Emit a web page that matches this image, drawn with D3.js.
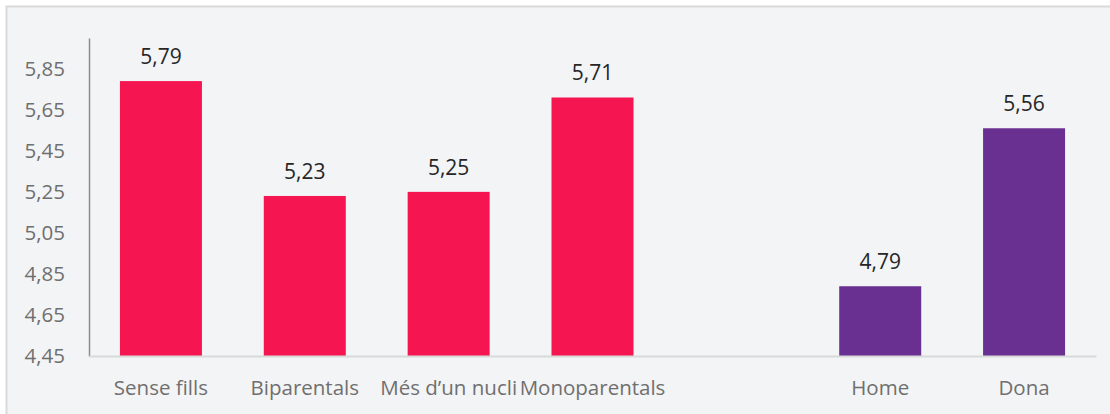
<!DOCTYPE html>
<html>
<head>
<meta charset="utf-8">
<script src="https://cdn.jsdelivr.net/npm/d3@7"></script>
<style>
  html, body { margin: 0; padding: 0; background: #fff; }
  svg { display: block; font-family: "Open Sans", sans-serif; }
</style>
</head>
<body>
<div id="chart"></div>
<script>
// categories (the blank one is the gap between the two groups)
const categories = ["Sense fills", "Biparentals", "Més d’un nucli", "Monoparentals", "", "Home", "Dona"];
const values = [5.79, 5.23, 5.25, 5.71, null, 4.79, 5.56];
const groups = ["llar", "llar", "llar", "llar", "", "sexe", "sexe"];
const yTicks = [4.45, 4.65, 4.85, 5.05, 5.25, 5.45, 5.65, 5.85];

const width = 1110, height = 414,
    margin = ({ top: 38, right: 14, bottom: 58, left: 89 });

const colors = { llar: "#f51551", sexe: "#692f91" };
const fmt = d => d3.format(".2f")(d).replace(".", ",");

const svg = d3.select("#chart")
    .append("svg")
    .attr("width", width)
    .attr("height", height)
    .attr("viewBox", [0, 0, width, height]);

// panel background with a thin border on top and left
svg.append("rect")
    .attr("x", 6).attr("y", 6)
    .attr("width", width - 6).attr("height", height - 6)
    .attr("fill", "#f3f4f6");
svg.append("path")
    .attr("d", `M6.5,${height} V6.5 H${width}`)
    .attr("fill", "none")
    .attr("stroke", "#d9d9d9")
    .attr("stroke-width", 2);

const data = categories.map((c, i) => ({ key: i, cat: c, value: values[i], group: groups[i] }));

let x = d3.scaleBand()
    .domain(data.map(d => d.key))
    .range([margin.left, width - margin.right])
    .paddingInner(0.43)
    .paddingOuter(0.215);

let y = d3.scaleLinear()
    .domain([4.45, 6.0])
    .range([height - margin.bottom, margin.top]);

// y axis
const yAxis = svg.append("g")
    .attr("transform", `translate(${margin.left},0)`)
    .call(d3.axisLeft(y).tickValues(yTicks).tickFormat(fmt).tickSize(0).tickPadding(24));
yAxis.select(".domain").attr("stroke", "#8c8c8c").attr("stroke-width", 1.5);
yAxis.selectAll("text").attr("fill", "#6f6f6f").style("font-size", "20.5px").style("font-family", "Open Sans");

// bars
svg.append("g")
    .selectAll("rect")
    .data(data.filter(d => d.value != null))
    .join("rect")
    .attr("x", d => x(d.key))
    .attr("y", d => y(d.value))
    .attr("width", x.bandwidth())
    .attr("height", d => y(4.45) - y(d.value))
    .attr("fill", d => colors[d.group]);

// x axis
const xAxis = svg.append("g")
    .attr("transform", `translate(0,${height - margin.bottom})`)
    .call(d3.axisBottom(x).tickFormat(k => categories[k]).tickSize(0).tickPadding(24).tickSizeOuter(0));
xAxis.select(".domain").attr("stroke", "#d9d9d9").attr("stroke-width", 2);
xAxis.selectAll("text").attr("fill", "#6f6f6f").style("font-size", "20.5px").style("font-family", "Open Sans");

// value labels
svg.append("g")
    .selectAll("text")
    .data(data.filter(d => d.value != null))
    .join("text")
    .attr("x", d => x(d.key) + x.bandwidth() / 2)
    .attr("y", d => y(d.value) - 17)
    .attr("text-anchor", "middle")
    .attr("fill", "#262626")
    .style("font-size", "21px")
    .text(d => fmt(d.value));
</script>
</body>
</html>
